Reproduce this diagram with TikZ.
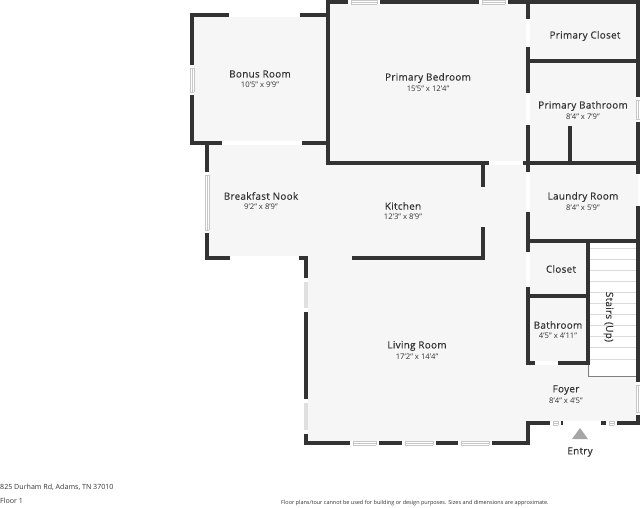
\documentclass[tikz,border=0pt]{standalone}
\usepackage{fontspec}
\setmainfont{Open Sans}
\newfontfamily\labelfont[FakeBold=0.35,LetterSpace=3]{Open Sans}
\usepackage{tikz}
\definecolor{wallgray}{HTML}{333333}
\definecolor{floorgray}{HTML}{F6F6F6}
\tikzstyle{wall}=[draw=wallgray,line width=4pt,line cap=rect,line join=miter]
\tikzstyle{gap}=[draw=white,line width=4pt]
\tikzstyle{winline}=[draw=black!22,line width=0.4pt]
\tikzstyle{roomname}=[text=wallgray,inner sep=0pt,font=\labelfont\fontsize{9.9}{11}\selectfont]
\tikzstyle{roomsize}=[text=wallgray,inner sep=0pt,font=\fontsize{7.7}{9}\selectfont]
\tikzstyle{footnote}=[text=wallgray,inner sep=0pt,anchor=west]

\begin{document}
\begin{tikzpicture}[x=1pt,y=-1pt]
    \useasboundingbox (0,0) rectangle (640,507);
    \fill[floorgray] (192,15) -- (328,15) -- (328,2) -- (638,2) -- (638,423)
      -- (528,423) -- (528,443) -- (306,443) -- (306,258) -- (207,258)
      -- (207,143) -- (192,143) -- cycle;
    % stairs
    \fill[white] (590,243) rectangle (636,376);
    \foreach \yy in {248,259,270,281,292,303,314.5,325.5,336.5,347.5,359}
      \draw[draw=black!14,line width=0.7pt] (590,\yy) -- (636,\yy);
    \draw[draw=black!50,line width=0.5pt] (588.3,363) -- (588.3,376) -- (636,376);
    % outer walls
    \draw[wall] (229,15) -- (192,15) -- (192,65);
    \draw[wall] (192,95) -- (192,143) -- (222,143);
    \draw[wall] (300,15) -- (328,15);
    \draw[wall] (302,143) -- (328,143);
    \draw[wall] (207,143) -- (207,172);
    \draw[wall] (207,233) -- (207,258) -- (230,258);
    \draw[wall] (299,258) -- (306,258) -- (306,278);
    \draw[wall] (306,312) -- (306,399);
    \draw[wall] (306,433) -- (306,443) -- (350,443);
    \draw[wall] (379,443) -- (402,443);
    \draw[wall] (436,443) -- (458,443);
    \draw[wall] (492,443) -- (528,443) -- (528,423) -- (550,423);
    \draw[wall] (561,423) -- (563,423);
    \draw[wall] (601,423) -- (606,423);
    \draw[wall] (617,423) -- (638,423) -- (638,415);
    \draw[wall] (638,382) -- (638,208);
    \draw[wall] (638,172) -- (638,122);
    \draw[wall] (638,97) -- (638,2) -- (508,2);
    \draw[wall] (479,2) -- (380,2);
    \draw[wall] (348,2) -- (328,2) -- (328,163) -- (489,163);
    % inner walls
    \draw[wall] (523,163) -- (638,163);
    \draw[wall] (528,60.5) -- (638,60.5);
    \draw[wall] (528,2) -- (528,19);
    \draw[wall] (528,47) -- (528,93);
    \draw[wall] (528,125) -- (528,172);
    \draw[wall] (528,212) -- (528,252);
    \draw[wall] (528,287) -- (528,363) -- (535,363);
    \draw[wall] (558,363) -- (588,363) -- (588,241);
    \draw[wall] (528,241) -- (638,241);
    \draw[wall] (528,296) -- (588,296);
    \draw[wall] (570,128) -- (570,163);
    \draw[wall] (483,163) -- (483,185);
    \draw[wall] (354,258) -- (483,258) -- (483,229);
    % openings
    \foreach \xa/\xb/\yy in {229/300/15,222/302/143,230/299/258,489/523/163,563/601/423,535/558/363}
      \draw[gap] (\xa,\yy) -- (\xb,\yy);
    \foreach \ya/\yb/\xx in {19/47/528,93/125/528,172/212/528,252/287/528}
      \draw[gap] (\xx,\ya) -- (\xx,\yb);
    % windows
    \foreach \xa/\xb/\yy in {348/380/2,479/508/2,350/379/443,402/436/443,458/492/443,550/561/423,606/617/423} {
      \fill[white] (\xa,\yy-2) rectangle (\xb,\yy+2);
      \draw[winline] (\xa+3,\yy-2) -- (\xb-3,\yy-2) (\xa+3,\yy+2) -- (\xb-3,\yy+2)
        (\xa+3,\yy-2) -- (\xa+3,\yy+2) (\xb-3,\yy-2) -- (\xb-3,\yy+2) (\xa+3,\yy) -- (\xb-3,\yy);
    }
    \foreach \ya/\yb/\xx in {65/95/192,172/233/207,97/122/638,382/415/638} {
      \fill[white] (\xx-2,\ya) rectangle (\xx+2,\yb);
      \draw[winline] (\xx-2,\ya+3) -- (\xx-2,\yb-3) (\xx+2,\ya+3) -- (\xx+2,\yb-3)
        (\xx-2,\ya+3) -- (\xx+2,\ya+3) (\xx-2,\yb-3) -- (\xx+2,\yb-3) (\xx,\ya+3) -- (\xx,\yb-3);
    }
    \foreach \ya/\yb in {278/312,399/434} {
      \fill[white] (304,\ya) rectangle (308,\yb);
      \fill[black!12] (304,\ya+4) rectangle (308,\yb-4);
    }
    % entry mark
    \fill[black!35] (580,428) -- (588,439) -- (572,439) -- cycle;
    % labels
    \node (bonus) at (260,74) [roomname]{Bonus Room};
    \node (bonussize) at (260,85) [roomsize]{10'5" x 9'9"};
    \node (bedroom) at (428,78) [roomname]{Primary Bedroom};
    \node (bedroomsize) at (428,89) [roomsize]{15'5" x 12'4"};
    \node (closetone) at (585,36) [roomname]{Primary Closet};
    \node (bath) at (583,106) [roomname]{Primary Bathroom};
    \node (bathsize) at (583,117) [roomsize]{8'4" x 7'9"};
    \node (nook) at (261,196) [roomname]{Breakfast Nook};
    \node (nooksize) at (261,207) [roomsize]{9'2" x 8'9"};
    \node (kitchen) at (403,206) [roomname]{Kitchen};
    \node (kitchensize) at (403,216.5) [roomsize]{12'3" x 8'9"};
    \node (laundry) at (583,197) [roomname]{Laundry Room};
    \node (laundrysize) at (583,207.5) [roomsize]{8'4" x 5'9"};
    \node (closettwo) at (561,269) [roomname]{Closet};
    \node (bathtwo) at (558,325) [roomname]{Bathroom};
    \node (bathtwosize) at (558,335.5) [roomsize]{4'5" x 4'11"};
    \node (stairs) at (608.5,317) [roomname,rotate=-90]{Stairs (Up)};
    \node (foyer) at (566,390) [roomname]{Foyer};
    \node (foyersize) at (566,401) [roomsize]{8'4" x 4'5"};
    \node (living) at (417,346) [roomname]{Living Room};
    \node (livingsize) at (417,356.5) [roomsize]{17'2" x 14'4"};
    \node (entry) at (580,452) [roomname]{Entry};
    \node (address) at (0,487) [footnote,font=\fontsize{7.1}{8}\selectfont]{825 Durham Rd, Adams, TN 37010};
    \node (floorno) at (0,501) [footnote,font=\fontsize{7.1}{8}\selectfont]{Floor 1};
    \node (notice) at (281,503.5) [footnote,font=\fontsize{5.5}{6}\selectfont]{Floor plans/tour cannot be used for building or design purposes. Sizes and dimensions are approximate.};
\end{tikzpicture}
\end{document}
